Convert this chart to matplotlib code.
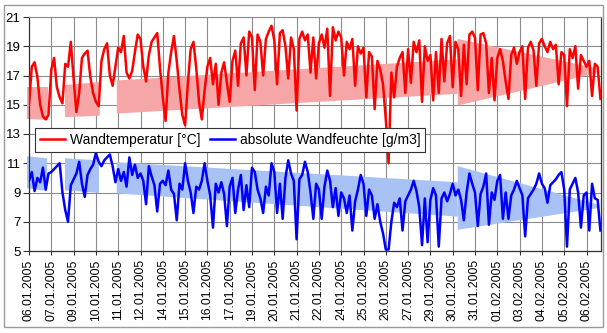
import numpy as np
import matplotlib
matplotlib.use('Agg')
import matplotlib.pyplot as plt
from matplotlib.patches import Polygon, Rectangle

tick_labels = ['06.01.2005', '07.01.2005', '09.01.2005', '10.01.2005', '11.01.2005',
               '12.01.2005', '14.01.2005', '15.01.2005', '16.01.2005', '17.01.2005',
               '19.01.2005', '20.01.2005', '21.01.2005', '22.01.2005', '24.01.2005',
               '25.01.2005', '26.01.2005', '27.01.2005', '29.01.2005', '30.01.2005',
               '31.01.2005', '01.02.2005', '03.02.2005', '04.02.2005', '05.02.2005',
               '06.02.2005']
points_per_label = 8

temperature = [
    15.0, 17.6, 17.9, 16.9, 15.0, 14.2, 14.0, 14.3,
    17.4, 18.2, 16.2, 15.5, 15.1, 17.8, 17.6, 19.3,
    16.8, 14.5, 15.8, 18.2, 18.5, 18.7, 16.9, 15.8,
    15.2, 14.9, 18.0, 18.8, 19.2, 17.0, 16.3, 17.6,
    18.9, 18.6, 19.7, 17.2, 16.8, 17.3, 18.6, 19.8,
    19.5, 17.6, 16.6, 18.4, 19.3, 19.6, 19.9, 17.5,
    15.5, 13.9, 17.2, 18.6, 19.7, 18.0, 16.0, 14.3,
    13.6, 16.5, 18.8, 19.3, 17.5, 15.2, 14.0, 16.0,
    17.6, 18.2, 16.4, 17.8, 15.0, 17.2, 17.9, 16.5,
    15.2, 18.0, 18.7, 16.3, 19.2, 19.6, 17.0, 20.0,
    19.6, 16.0, 19.8, 19.3, 17.0, 19.5, 20.0, 20.4,
    19.4, 16.4, 19.9, 20.1, 19.0, 16.8, 19.6, 18.8,
    14.6, 19.5, 20.0, 19.4, 19.8, 17.2, 19.6, 16.8,
    19.2, 19.8, 18.9, 20.2, 15.6, 20.3, 19.4, 20.0,
    19.6, 17.0, 19.3, 18.8, 19.5, 16.3, 19.0, 18.5,
    18.9, 15.5, 18.6, 18.3, 14.7, 18.0, 17.4, 16.4,
    14.0, 11.0, 17.2, 15.5, 17.6, 18.2, 18.6, 15.8,
    18.8, 16.5, 19.3, 18.6, 19.4, 15.2, 19.0, 18.0,
    18.4, 15.3, 18.6, 15.8, 19.5, 16.6, 19.2, 19.7,
    16.2, 19.3, 18.8, 15.6, 19.1, 16.4, 19.8, 20.0,
    19.6, 16.0, 19.8, 19.9, 19.2, 15.8, 18.2, 15.3,
    18.2, 18.8, 18.0, 16.6, 15.4, 18.4, 18.9, 17.8,
    18.6, 19.0, 15.4, 18.9, 19.3, 18.7, 16.3, 19.2,
    19.5, 19.0, 18.6, 19.3, 18.8, 19.1, 16.4, 18.6,
    18.4, 14.9, 18.8, 18.2, 19.0, 16.1, 18.4, 18.0,
    17.6, 18.0, 15.6, 17.8, 17.6, 15.4,
]

humidity = [
    9.8, 10.4, 9.1, 10.0, 9.7, 10.7, 9.2, 10.3,
    10.4, 10.6, 10.8, 11.0, 9.0, 7.8, 7.0, 9.5,
    9.9, 10.3, 11.1, 9.6, 8.7, 10.2, 10.6, 10.9,
    11.7, 11.1, 10.8, 11.2, 11.4, 11.6, 10.8, 9.7,
    10.6, 9.8, 10.4, 9.4, 11.4, 10.2, 10.9, 10.0,
    10.3, 9.8, 8.2, 10.8, 10.1, 9.5, 7.7, 9.6,
    9.8, 9.5, 10.5, 9.2, 8.9, 7.1, 9.6, 9.2,
    11.0, 9.8, 9.0, 7.6, 9.4, 9.2, 9.8, 11.0,
    9.8, 8.8, 6.6, 9.6, 9.0, 9.7, 8.9, 6.7,
    9.4, 10.0, 7.6, 9.2, 10.2, 7.8, 9.5, 8.0,
    10.7, 10.4, 9.2, 8.6, 7.6, 9.4, 8.8, 11.0,
    10.4, 7.6, 9.6, 7.2, 10.0, 11.2, 10.3, 9.8,
    5.8, 9.9, 10.2, 11.1, 10.4, 9.0, 7.2, 9.6,
    9.2, 7.2, 9.4, 10.5, 9.8, 8.0, 9.3, 7.4,
    9.0, 8.6, 7.6, 8.8, 6.4, 8.4, 9.2, 10.2,
    9.6, 7.4, 9.2, 8.8, 7.2, 8.2, 7.0, 6.2,
    5.1, 5.1, 7.0, 8.3, 8.0, 8.6, 6.4, 8.4,
    8.8, 9.2, 9.8, 9.1, 8.0, 5.4, 8.6, 5.6,
    8.5, 9.3, 8.8, 5.3, 8.6, 9.0, 8.4, 8.9,
    9.6, 8.8, 9.2, 8.5, 7.1, 9.0, 10.3, 9.6,
    9.0, 6.7, 8.9, 9.4, 10.3, 6.8, 9.0, 8.5,
    9.8, 10.2, 7.2, 9.0, 7.2, 8.8, 9.2, 9.8,
    9.3, 8.8, 6.0, 8.6, 8.9, 9.2, 9.6, 10.3,
    9.6, 9.3, 8.3, 9.5, 9.7, 9.9, 10.2, 10.4,
    9.2, 5.3, 9.2, 9.6, 10.0, 9.0, 6.6, 8.8,
    9.0, 6.4, 9.6, 8.6, 8.5, 6.4,
]

# trend bands (x in sample index units): start/end, top start/end, bottom start/end
temp_band_x = [(-0.7, 6.8), (12.9, 25.4), (31.5, 153.8), (153.8, 203.6)]
temp_band_top = [(16.2, 16.2), (16.35, 16.55), (16.66, 18.1), (19.5, 17.5)]
temp_band_bottom = [(14.0, 13.95), (14.15, 14.25), (14.4, 15.75), (14.95, 17.15)]
hum_band_x = [(-0.7, 6.5), (12.9, 25.1), (31.5, 153.8), (153.8, 204.7)]
hum_band_top = [(11.48, 11.34), (11.34, 11.2), (11.07, 9.7), (10.8, 8.15)]
hum_band_bottom = [(9.29, 9.1), (9.15, 8.97), (8.94, 7.35), (6.45, 7.95)]

plt.rcParams['font.family'] = ['Liberation Sans', 'DejaVu Sans']

W, H = 607, 333
fig = plt.figure(figsize=(W / 100, H / 100), dpi=100)
fig.patch.set_facecolor('white')
ax = fig.add_axes([29 / W, 1 - 251 / H, (601 - 29) / W, (251 - 17) / H])

# chart border
fig.patches.append(Rectangle((4 / W, 1 - 327 / H), (603 - 4) / W, (327 - 5) / H,
                             transform=fig.transFigure, fill=False,
                             edgecolor='#9a9a9a', lw=1.0))

def add_bands(xs, tops, bottoms, color):
    for (x0, x1), (t0, t1), (b0, b1) in zip(xs, tops, bottoms):
        poly = Polygon([(x0, b0), (x0, t0), (x1, t1), (x1, b1)], closed=True,
                       facecolor=color, edgecolor='none', zorder=2, clip_on=False)
        ax.add_patch(poly)

add_bands(temp_band_x, temp_band_top, temp_band_bottom, '#f6a6a6')
add_bands(hum_band_x, hum_band_top, hum_band_bottom, '#a9c2f5')

x = np.arange(len(temperature))
ax.plot(x, temperature, color='#ff0000', lw=1.8, zorder=3,
        label='Wandtemperatur [°C]')
ax.plot(x, humidity, color='#0000ff', lw=1.8, zorder=3,
        label='absolute Wandfeuchte [g/m3]')

ax.set_ylim(5, 21)
ax.set_yticks(np.arange(5, 22, 2))
ticks = np.arange(len(tick_labels)) * points_per_label
ax.set_xticks(ticks)
ax.set_xticklabels(tick_labels, rotation=90, fontsize=8.7)
ax.set_xlim(0, (601 - 29) / 22.3 * points_per_label)
ax.tick_params(axis='y', labelsize=9.5, length=4, width=0.8, pad=2, color='#333333')
ax.tick_params(axis='x', length=3, width=0.8, pad=3, color='#333333')
ax.grid(True, color='#8c8c8c', lw=0.8, zorder=1)
ax.set_axisbelow(True)
for side in ['left', 'bottom', 'right']:
    ax.spines[side].set_color('#333333')
    ax.spines[side].set_linewidth(0.9)
ax.spines['top'].set_color('#8c8c8c')
ax.spines['top'].set_linewidth(0.8)

leg = ax.legend(loc='upper left', bbox_to_anchor=(0.0105, 0.526), ncol=2,
                fontsize=10, frameon=True, fancybox=False, framealpha=1,
                edgecolor='#333333', handlelength=1.8, handletextpad=0.35,
                columnspacing=0.7, borderpad=0.35, borderaxespad=0)
leg.get_frame().set_linewidth(0.8)
leg.set_zorder(5)

fig.savefig('out.png', dpi=100, facecolor='white')
